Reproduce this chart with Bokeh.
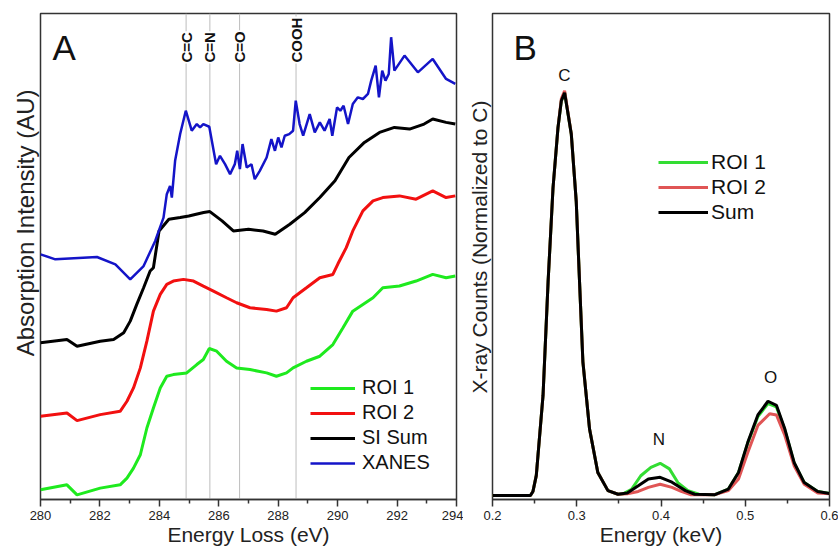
import math
from bokeh.plotting import figure
from bokeh.models import Range1d, Legend, LegendItem, Label, FixedTicker, Title
from bokeh.layouts import row
from bokeh.embed import file_html
from bokeh.resources import INLINE
from bokeh.core.properties import value

FONT = "Liberation Sans"

# ---------------- Panel A data (energy loss, eV ; absorption, arbitrary units) ----------------
roi1_ev = [280.00, 280.89, 281.23, 282.01, 282.68, 282.91, 283.13, 283.36, 283.58, 283.80, 284.03,
           284.25, 284.47, 284.92, 285.26, 285.48, 285.68, 285.93, 286.26, 286.60, 287.05, 287.61,
           287.94, 288.28, 288.50, 288.95, 289.40, 289.84, 290.18, 290.51, 290.85, 291.19, 291.52,
           292.08, 292.64, 293.20, 293.65, 293.96]
roi1_abs = [1.99, 3.02, 0.96, 2.34, 3.02, 4.40, 6.46, 9.21, 14.71, 18.83, 22.95,
            25.36, 25.70, 26.05, 27.77, 28.80, 31.07, 30.52, 28.45, 27.08, 26.74, 26.05,
            25.36, 26.05, 27.08, 28.45, 29.48, 31.89, 35.33, 38.76, 40.14, 41.51, 43.57,
            43.92, 44.95, 46.32, 45.64, 45.98]

roi2_ev = [280.00, 280.89, 281.23, 282.01, 282.68, 282.91, 283.13, 283.36, 283.58, 283.80, 284.03,
           284.25, 284.47, 284.81, 285.15, 285.48, 285.82, 286.26, 286.60, 287.05, 287.61, 287.94,
           288.28, 288.50, 288.95, 289.40, 289.84, 290.01, 290.29, 290.51, 290.85, 291.19, 291.52,
           292.08, 292.64, 293.20, 293.65, 293.96]
roi2_abs = [17.11, 17.80, 16.22, 17.46, 18.14, 20.21, 22.95, 27.08, 32.58, 38.76, 42.20,
            44.26, 44.95, 45.29, 44.95, 43.92, 42.89, 41.51, 40.48, 39.45, 39.11, 38.76,
            39.45, 41.51, 43.57, 45.64, 46.30, 48.50, 51.82, 55.26, 59.38, 61.44, 62.13,
            62.47, 61.79, 63.51, 62.13, 62.47]

sum_ev = [280.00, 280.89, 281.23, 282.01, 282.46, 282.80, 283.02, 283.24, 283.47, 283.69, 283.80,
          283.99, 284.32, 284.70, 284.99, 285.49, 285.70, 286.11, 286.49, 287.00, 287.49, 287.90,
          288.39, 288.89, 289.40, 289.91, 290.38, 290.90, 291.41, 291.91, 292.42, 292.91, 293.20,
          293.65, 293.96]
sum_abs = [32.23, 32.92, 31.55, 32.58, 32.92, 34.30, 36.70, 40.14, 43.57, 47.01, 47.70,
           55.26, 57.66, 58.01, 58.35, 59.04, 59.24, 57.32, 55.26, 55.60, 55.26, 54.57,
           56.63, 59.04, 62.13, 65.57, 70.38, 73.47, 75.53, 76.56, 76.22, 77.25, 78.28,
           77.60, 77.25]

xanes_ev = [280.00, 280.50, 281.90, 282.52, 283.02, 283.47, 283.86, 284.14, 284.25, 284.36, 284.42,
            284.53, 284.70, 284.89, 285.09, 285.26, 285.37, 285.48, 285.68, 285.91, 286.04, 286.21,
            286.38, 286.54, 286.62, 286.71, 286.80, 286.94, 287.10, 287.21, 287.38, 287.61, 287.77,
            287.89, 288.00, 288.11, 288.22, 288.37, 288.50, 288.59, 288.72, 288.84, 289.06, 289.23,
            289.40, 289.56, 289.73, 289.82, 289.98, 290.09, 290.20, 290.35, 290.51, 290.68, 290.85,
            291.02, 291.13, 291.28, 291.39, 291.50, 291.61, 291.72, 291.80, 291.91, 292.25, 292.70,
            293.20, 293.65, 293.96]
xanes_abs = [50.45, 49.42, 49.90, 48.39, 45.29, 48.04, 53.20, 58.01, 62.82, 64.54, 62.13,
             69.69, 75.19, 80.00, 75.88, 77.25, 76.56, 77.25, 76.70, 69.00, 70.72, 69.00,
             66.94, 69.00, 71.75, 67.97, 73.13, 68.32, 69.00, 65.91, 67.63, 70.38, 74.16,
             71.75, 74.50, 72.44, 74.85, 75.19, 75.88, 82.06, 77.25, 74.85, 79.31, 75.53,
             77.59, 75.88, 78.28, 74.85, 80.69, 80.00, 81.03, 77.25, 81.37, 82.75, 82.41,
             83.44, 86.19, 89.28, 82.75, 88.25, 86.19, 87.56, 95.12, 88.25, 91.34, 87.90,
             90.65, 86.53, 85.50]

bond_ev = [284.9, 285.7, 286.7, 288.6]
bond_names = ["C=C", "C=N", "C=O", "COOH"]
a_ticks = [280, 282, 284, 286, 288, 290, 292, 294]
a_minor = [281, 283, 285, 287, 289, 291, 293]

# ---------------- Panel B data (X-ray energy, keV ; counts normalised to C) ----------------
bsum_kev = [0.200, 0.245, 0.248, 0.252, 0.260, 0.266, 0.2718, 0.2777, 0.2817, 0.2856, 0.2935,
            0.2994, 0.3033, 0.3073, 0.3152, 0.325, 0.337, 0.349, 0.360, 0.373, 0.385, 0.399,
            0.413, 0.429, 0.440, 0.464, 0.480, 0.492, 0.503, 0.515, 0.527, 0.537, 0.547,
            0.558, 0.570, 0.586, 0.600]
bsum_cts = [0.0, 0.0, 0.01, 0.05, 0.249, 0.531, 0.763, 0.913, 0.98, 1.0, 0.898,
            0.73, 0.531, 0.332, 0.165, 0.057, 0.012, 0.003, 0.006, 0.024, 0.041, 0.045,
            0.033, 0.012, 0.003, 0.002, 0.016, 0.057, 0.132, 0.200, 0.234, 0.224, 0.165,
            0.082, 0.032, 0.010, 0.005]

broi1_kev = [0.200, 0.245, 0.248, 0.252, 0.260, 0.266, 0.2718, 0.2777, 0.2817, 0.2856, 0.2935,
             0.2994, 0.3033, 0.3073, 0.3152, 0.325, 0.337, 0.349, 0.355, 0.365, 0.376, 0.388,
             0.399, 0.410, 0.420, 0.432, 0.445, 0.464, 0.480, 0.492, 0.503, 0.515, 0.527,
             0.537, 0.547, 0.558, 0.570, 0.586, 0.600]
broi1_cts = [0.0, 0.0, 0.01, 0.05, 0.249, 0.531, 0.763, 0.913, 0.98, 1.0, 0.898,
             0.73, 0.531, 0.332, 0.165, 0.057, 0.012, 0.003, 0.004, 0.015, 0.049, 0.070,
             0.080, 0.066, 0.032, 0.012, 0.003, 0.002, 0.016, 0.057, 0.130, 0.196, 0.228,
             0.220, 0.163, 0.081, 0.032, 0.010, 0.005]

broi2_kev = [0.200, 0.245, 0.248, 0.252, 0.260, 0.266, 0.2718, 0.2777, 0.2817, 0.2856, 0.2935,
             0.2994, 0.3033, 0.3073, 0.3152, 0.325, 0.337, 0.349, 0.360, 0.373, 0.385, 0.399,
             0.413, 0.424, 0.435, 0.464, 0.480, 0.492, 0.503, 0.515, 0.529, 0.537, 0.547,
             0.558, 0.570, 0.586, 0.600]
broi2_cts = [0.0, 0.0, 0.01, 0.05, 0.249, 0.531, 0.763, 0.913, 0.985, 1.005, 0.898,
             0.73, 0.531, 0.332, 0.165, 0.057, 0.012, 0.003, 0.004, 0.010, 0.020, 0.028,
             0.020, 0.010, 0.002, 0.002, 0.012, 0.041, 0.107, 0.174, 0.203, 0.200, 0.149,
             0.074, 0.028, 0.006, 0.004]

b_ticks = [0.2, 0.3, 0.4, 0.5, 0.6]
b_minor = [0.25, 0.35, 0.45, 0.55]
peak_kev = [0.2852, 0.3976, 0.530]
peak_cts = [1.042, 0.14, 0.292]
peak_names = ["C", "N", "O"]

GREEN_A, RED_A, BLACK, BLUE = "#1eea1e", "#f21010", "#000000", "#1414c8"
GREEN_B, RED_B = "#33dd33", "#e05555"


def style(p, ticks, minor, xlabel):
    p.xgrid.visible = False
    p.ygrid.visible = False
    p.yaxis.visible = False
    p.outline_line_color = "#333333"
    p.outline_line_width = 1.5
    p.outline_line_alpha = 1.0
    ax = p.xaxis[0]
    ax.ticker = FixedTicker(ticks=ticks, minor_ticks=minor)
    ax.axis_line_color = "#333333"
    ax.axis_line_width = 1.5
    ax.major_tick_line_color = "#333333"
    ax.major_tick_line_width = 1.5
    ax.minor_tick_line_color = "#333333"
    ax.minor_tick_line_width = 1.5
    ax.major_tick_in = 0
    ax.major_tick_out = 7
    ax.minor_tick_in = 0
    ax.minor_tick_out = 4
    ax.major_label_text_font = FONT
    ax.major_label_text_font_size = "13px"
    ax.major_label_text_color = "#222222"
    ax.major_label_standoff = 4
    ax.axis_label = xlabel
    ax.axis_label_text_font = FONT
    ax.axis_label_text_font_size = "21px"
    ax.axis_label_text_font_style = "normal"
    ax.axis_label_text_color = "#222222"
    ax.axis_label_standoff = 0
    p.background_fill_color = "white"
    p.border_fill_color = "white"


def ytitle(p, text, size, offset, standoff):
    p.add_layout(Title(text=text, align="right", offset=offset, standoff=standoff,
                       text_font=FONT, text_font_size=size, text_font_style="normal",
                       text_color="#222222"), "left")


# ---------------- Panel A ----------------
pa = figure(width=463, height=548, x_range=Range1d(280, 294), y_range=Range1d(0, 100),
            output_backend="svg", toolbar_location=None,
            min_border_left=40, min_border_right=7, min_border_top=13, min_border_bottom=0)
style(pa, a_ticks, a_minor, "Energy Loss (eV)")
ytitle(pa, "Absorption Intensity (AU)", "24px", 76, 4)

pa.segment(x0=bond_ev, y0=[0] * len(bond_ev), x1=bond_ev, y1=[100] * len(bond_ev),
           line_color="#bdbdbd", line_width=1)
pa.text(x=bond_ev, y=[89.7] * len(bond_ev), text=bond_names, angle=math.pi / 2,
        text_align="left", text_baseline="middle", text_font=value(FONT),
        text_font_size="15px", text_font_style="bold", text_color="#111111",
        background_fill_color="white", padding=1)

r1 = pa.line(roi1_ev, roi1_abs, line_color=GREEN_A, line_width=3)
r2 = pa.line(roi2_ev, roi2_abs, line_color=RED_A, line_width=3)
r3 = pa.line(sum_ev, sum_abs, line_color=BLACK, line_width=3)
r4 = pa.line(xanes_ev, xanes_abs, line_color=BLUE, line_width=2.5)

leg_a = Legend(items=[LegendItem(label="ROI 1", renderers=[r1]),
                      LegendItem(label="ROI 2", renderers=[r2]),
                      LegendItem(label="SI Sum", renderers=[r3]),
                      LegendItem(label="XANES", renderers=[r4])],
               location=(270, 25), glyph_width=45, glyph_height=20, label_height=20,
               spacing=2, padding=0, margin=0, label_standoff=7,
               label_text_font=FONT, label_text_font_size="20px", label_text_color="#111111",
               border_line_color=None, background_fill_alpha=0)
pa.add_layout(leg_a)

pa.add_layout(Label(x=280.4, y=93.0, text="A", text_font=FONT, text_font_size="35px",
                    text_baseline="alphabetic", text_align="left", text_color="#111111"))

# ---------------- Panel B ----------------
pb = figure(width=375, height=548, x_range=Range1d(0.2, 0.6), y_range=Range1d(-0.01, 1.197),
            output_backend="svg", toolbar_location=None,
            min_border_left=28, min_border_right=9, min_border_top=13, min_border_bottom=0)
style(pb, b_ticks, b_minor, "Energy (keV)")
ytitle(pb, "X-ray Counts (Normalized to C)", "21px", 87, 4)

g1 = pb.line(broi1_kev, broi1_cts, line_color=GREEN_B, line_width=3)
g2 = pb.line(broi2_kev, broi2_cts, line_color=RED_B, line_width=3)
g3 = pb.line(bsum_kev, bsum_cts, line_color=BLACK, line_width=3)

pb.text(x=peak_kev, y=peak_cts, text=peak_names, text_align="center", text_baseline="middle",
        text_font=value(FONT), text_font_size="17px", text_color="#111111")

leg_b = Legend(items=[LegendItem(label="ROI 1", renderers=[g1]),
                      LegendItem(label="ROI 2", renderers=[g2]),
                      LegendItem(label="Sum", renderers=[g3])],
               location=(166, 275), glyph_width=50, glyph_height=20, label_height=20,
               spacing=1, padding=0, margin=0, label_standoff=3,
               label_text_font=FONT, label_text_font_size="21px", label_text_color="#111111",
               border_line_color=None, background_fill_alpha=0)
pb.add_layout(leg_b)

pb.add_layout(Label(x=0.2249, y=1.112, text="B", text_font=FONT, text_font_size="35px",
                    text_baseline="alphabetic", text_align="left", text_color="#111111"))

layout = row(pa, pb, spacing=0)
open("out.html", "w").write(file_html(layout, INLINE))
